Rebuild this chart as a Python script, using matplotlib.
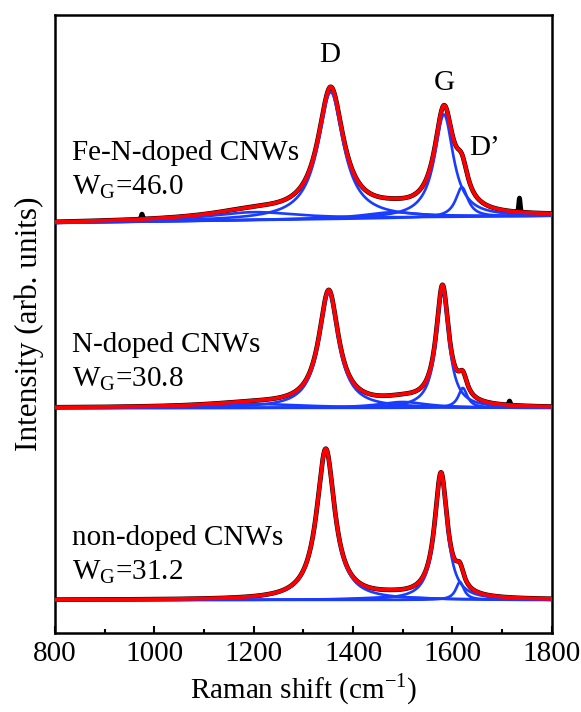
import numpy as np
import matplotlib
matplotlib.use('Agg')
import matplotlib.pyplot as plt
from matplotlib.ticker import MultipleLocator

plt.rcParams['font.family'] = ['Liberation Serif', 'DejaVu Serif']
plt.rcParams['mathtext.fontset'] = 'custom'
plt.rcParams['mathtext.rm'] = 'Liberation Serif'

# Lorentzian components of each fitted spectrum: centre (cm-1), FWHM, height
names = ['non-doped CNWs', 'N-doped CNWs', 'Fe-N-doped CNWs']
wg_labels = ['31.2', '30.8', '46.0']
offsets_left = [33, 225, 410]
offsets_right = [33, 225, 417]

centers = [
    [1345, 1577, 1615, 1480],
    [1351, 1580, 1621, 1500, 1200],
    [1355, 1583, 1619, 1480, 1200],
]
fwhms = [
    [44, 31.2, 20, 150],
    [48, 30.8, 22, 120, 250],
    [62, 46.0, 30, 140, 220],
]
heights = [
    [150, 124, 18, 3],
    [115, 118, 20, 6, 4],
    [127, 103, 30, 6, 8],
]

# a few sharp spikes seen in the measured data (position, height)
spike_pos = [[], [1715], [975, 1735]]
spike_h = [[], [4], [5, 14]]

x = np.linspace(800, 1800, 2001)


def lorentz(x, c, w, h):
    return h * (w / 2) ** 2 / ((x - c) ** 2 + (w / 2) ** 2)


fig = plt.figure(figsize=(5.81, 7.12), dpi=100)
ax = fig.add_axes([0.0947, 0.111, 0.855, 0.868])

blue = '#1a3cff'
for i in range(3):
    base = offsets_left[i] + (offsets_right[i] - offsets_left[i]) * (x - 800) / 1000
    total = np.zeros_like(x)
    comps = []
    for c, w, h in zip(centers[i], fwhms[i], heights[i]):
        comp = lorentz(x, c, w, h)
        comps.append(comp)
        total += comp
    meas = total.copy()
    for p, h in zip(spike_pos[i], spike_h[i]):
        meas += h * np.exp(-0.5 * ((x - p) / 1.5) ** 2)
    ax.plot(x, base + meas, color='black', lw=3.4, zorder=2)
    for comp in comps:
        ax.plot(x, base + comp, color=blue, lw=1.9, zorder=3)
    ax.plot(x, base + total, color='red', lw=2.7, zorder=4)

# sample labels
fs = 21
label_y = [95, 288, 480]
for i in range(3):
    ax.text(834, label_y[i], names[i], fontsize=fs, ha='left', va='center')
    ax.text(834, label_y[i] - 34, r'W$_\mathrm{G}$=' + wg_labels[i],
            fontsize=fs, ha='left', va='center')

# band labels
ax.text(1352, 578, 'D', fontsize=fs, ha='center', va='center')
ax.text(1583, 550, 'G', fontsize=fs, ha='center', va='center')
ax.text(1665, 485, 'D\u2019', fontsize=fs, ha='center', va='center')

ax.set_xlim(800, 1800)
ax.set_ylim(0, 618)
ax.xaxis.set_major_locator(MultipleLocator(200))
ax.xaxis.set_minor_locator(MultipleLocator(100))
ax.tick_params(axis='x', which='major', direction='in', length=5, width=1.5,
               labelsize=fs, pad=6, top=False)
ax.tick_params(axis='x', which='minor', direction='in', length=3, width=1.5,
               top=False)
ax.set_yticks([])
for s in ax.spines.values():
    s.set_linewidth(1.8)

ax.set_xlabel('Raman shift (cm$^{-1}$)', fontsize=fs, labelpad=3)
ax.set_ylabel('Intensity (arb. units)', fontsize=22.5, labelpad=8)

fig.savefig('out.png', dpi=100)
